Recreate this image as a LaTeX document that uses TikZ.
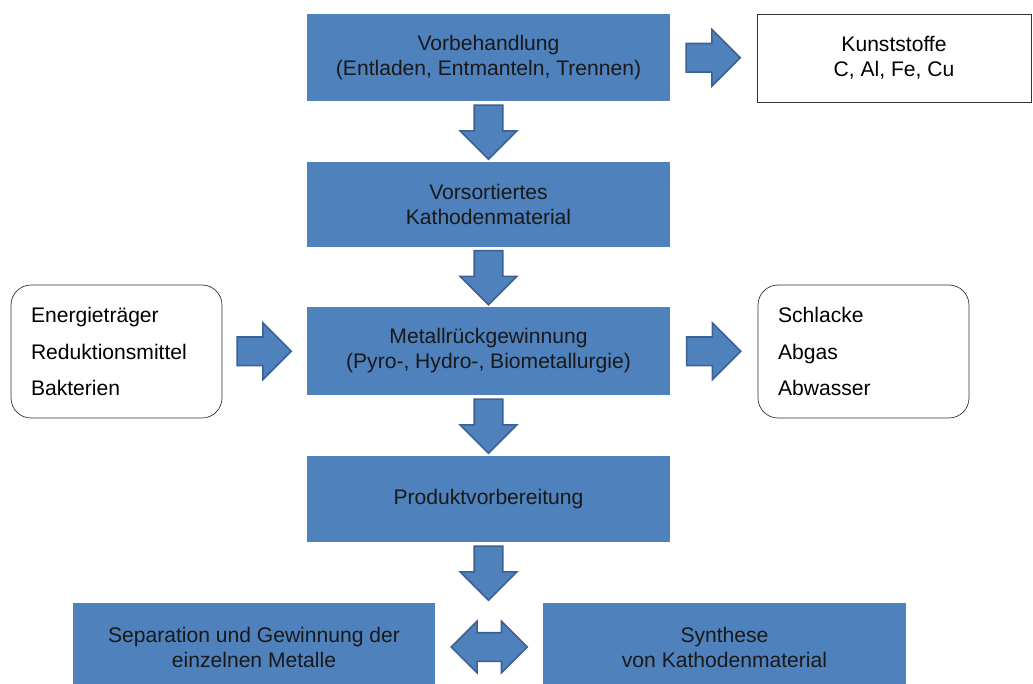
\documentclass[tikz,border=0pt]{standalone}
\usepackage{fontspec}
\setmainfont{Liberation Sans}
\usetikzlibrary{shapes.arrows,calc}

\definecolor{boxblue}{HTML}{4F81BD}
\definecolor{arrowline}{HTML}{3A6192}

\begin{document}
\begin{tikzpicture}[x=0.02cm,y=-0.02cm]
				\tikzset{step box/.style={
						rectangle,
						fill=boxblue,
						text=black!90,
						align=center,
						inner sep=0pt,
						minimum width=7.26cm,
						minimum height=1.74cm,
						font=\fontsize{12}{14.2}\selectfont
					},
					side box/.style={
						rectangle,
						draw=black!80,
						fill=white,
						align=center,
						inner sep=0pt,
						minimum width=5.48cm,
						minimum height=1.76cm,
						font=\fontsize{12}{14.2}\selectfont
					},
					list box/.style={
						rectangle,
						rounded corners=0.4cm,
						draw=black!80,
						fill=white,
						align=left,
						inner sep=0.4cm,
						text width=3.42cm,
						minimum height=2.66cm,
						font=\fontsize{12}{21}\selectfont
					},
					block arrow/.style={
						single arrow,
						fill=boxblue,
						draw=arrowline,
						line width=0.9pt,
						inner sep=0.27cm,
						minimum height=1.08cm,
						single arrow head extend=0.28cm,
						single arrow head indent=0pt
					},
					down arrow/.style={
						block arrow,
						shape border rotate=270,
						yshift=0.13cm
					},
					right arrow/.style={
						block arrow,
						xshift=-0.15cm
					},
					both arrow/.style={
						double arrow,
						fill=boxblue,
						draw=arrowline,
						line width=0.9pt,
						inner sep=0.27cm,
						minimum height=1.52cm,
						double arrow head extend=0.23cm,
						double arrow head indent=0pt
				}}
				
				\useasboundingbox (0,0) rectangle (1033,683);
				
				%% MAIN CHAIN
				\node[step box] (Vorbeh) at (488.5,57.5) {Vorbehandlung\\(Entladen, Entmanteln, Trennen)};
				\node[step box, minimum height=1.70cm] (Vorsort) at (488.5,204.5) {Vorsortiertes\\Kathodenmaterial};
				\node[step box, minimum height=1.76cm] (Metall) at (488.5,351) {Metallrückgewinnung\\(Pyro-, Hydro-, Biometallurgie)};
				\node[step box, minimum height=1.72cm] (Produkt) at (488.5,499) {Produktvorbereitung};
				\node[step box, minimum height=1.76cm] (Separ) at (254,647) {Separation und Gewinnung der\\einzelnen Metalle};
				\node[step box, minimum height=1.76cm] (Synth) at (724.5,647) {Synthese\\von Kathodenmaterial};
				
				%% SIDE STREAMS
				\node[side box] (Kunst) at (894,58) {Kunststoffe\\C, Al, Fe, Cu};
				\node[list box] (Input) at (116.5,351.5) {Energieträger\\Reduktionsmittel\\Bakterien};
				\node[list box] (Output) at (863.5,351.5) {Schlacke\\Abgas\\Abwasser};
				
				%% ARROWS
				\node[down arrow] (A1) at ($(Vorbeh.south)!0.5!(Vorsort.north)$) {};
				\node[down arrow] (A2) at ($(Vorsort.south)!0.5!(Metall.north)$) {};
				\node[down arrow] (A3) at ($(Metall.south)!0.5!(Produkt.north)$) {};
				\node[down arrow] (A4) at ($(Produkt.south)!0.5!(Separ.north -| Produkt.south)$) {};
				\node[right arrow] (AK) at ($(Vorbeh.east)!0.5!(Kunst.west)$) {};
				\node[right arrow] (AI) at ($(Input.east)!0.5!(Metall.west)$) {};
				\node[right arrow] (AO) at ($(Metall.east)!0.5!(Output.west)$) {};
				\node[both arrow] (AB) at ($(Separ.east)!0.5!(Synth.west)$) {};
				
			\end{tikzpicture}
\end{document}
